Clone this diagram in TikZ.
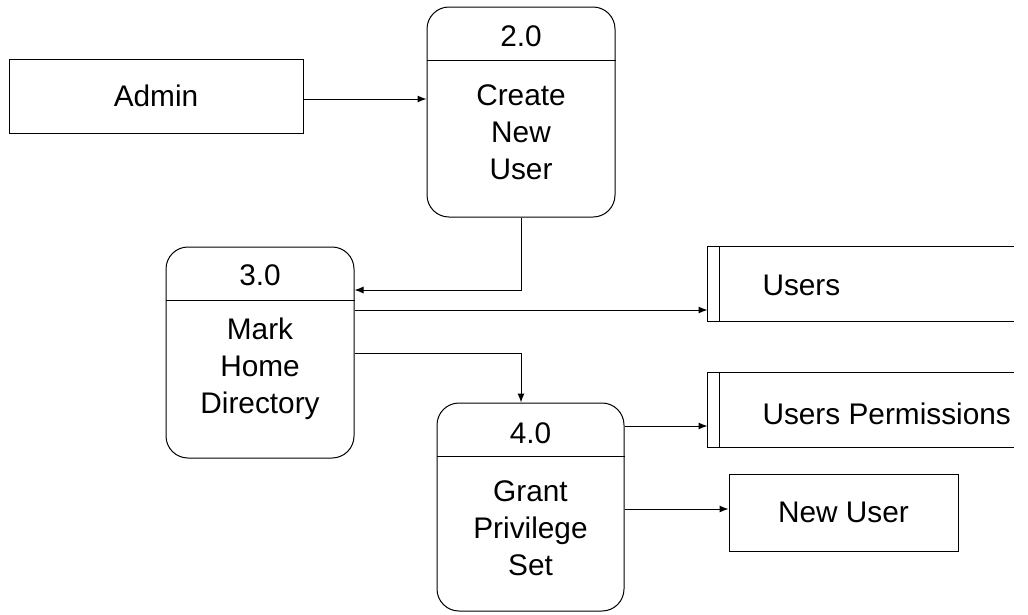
\documentclass[tikz,border=0pt]{standalone}
\usepackage{fontspec}
\setmainfont{Liberation Sans}
\usetikzlibrary{arrows.meta}
\begin{document}
\begin{tikzpicture}[x=1pt,y=-1pt,
  line width=1pt,
  txt/.style={font=\fontsize{29.8pt}{37pt}\selectfont, inner sep=0pt, align=center},
  proc/.style={draw, rounded corners=22pt, minimum width=188pt, minimum height=210pt, inner sep=0pt},
  entity/.style={draw, minimum width=294pt, minimum height=74pt, inner sep=0pt,
    font=\fontsize{29.8pt}{37pt}\selectfont},
  store/.style={minimum width=305pt, minimum height=74pt, inner sep=0pt},
  flow/.style={-{Latex[length=9pt,width=7pt]}},
]
\useasboundingbox (0,0) rectangle (1028,614);

% external entities
\node[entity] (admin) at (156,96) {Admin};
\node[entity, minimum width=229pt, minimum height=77pt] (newuser) at (843.5,512.5) {New User};

% processes
\node[proc] (p2) at (521,112) {};
\node[proc, minimum height=211pt] (p3) at (260,352.5) {};
\node[proc, minimum width=187pt, minimum height=208pt] (p4) at (530.5,507) {};

\foreach \p in {p2,p3,p4}
  \draw ([yshift=-54pt]\p.north west) -- ([yshift=-54pt]\p.north east);

\node[txt] (p2num) at (521,36) {2.0};
\node[txt] (p2body) at (521,132) {Create\\New\\User};
\node[txt] (p3num) at (260,275) {3.0};
\node[txt] (p3body) at (260,369) {Mark\\Home\\Directory};
\node[txt] (p4num) at (530.5,433) {4.0};
\node[txt] (p4body) at (530.5,528) {Grant\\Privilege\\Set};

% data stores (open on the right)
\node[store] (users) at (860.5,284) {};
\node[store] (perm) at (860.5,410) {};
\foreach \s in {users,perm} {
  \draw (\s.north east) -- (\s.north west) -- (\s.south west) -- (\s.south east);
  \draw ([xshift=12pt]\s.north west) -- ([xshift=12pt]\s.south west);
}
\node[txt, anchor=west] (userslbl) at (762,285) {Users};
\node[txt, anchor=west] (permlbl) at (762,414) {Users Permissions};

% data flows
\coordinate (a2) at ([yshift=-3pt]admin.east);
\coordinate (c290) at (0,290);
\coordinate (c310) at (0,310);
\coordinate (c353) at (0,353);
\coordinate (c426) at (0,426);
\coordinate (c509) at (0,509);

\draw[flow] (a2) -- (a2 -| p2.west);
\draw[flow] (p2.south) |- (p3.east |- c290);
\draw[flow] (p3.east |- c310) -- (users.west |- c310);
\draw[flow] (p3.east |- c353) -| (p4.north -| p2.south);
\draw[flow] (p4.east |- c426) -- (perm.west |- c426);
\draw[flow] (p4.east |- c509) -- (newuser.west |- c509);
\end{tikzpicture}
\end{document}
